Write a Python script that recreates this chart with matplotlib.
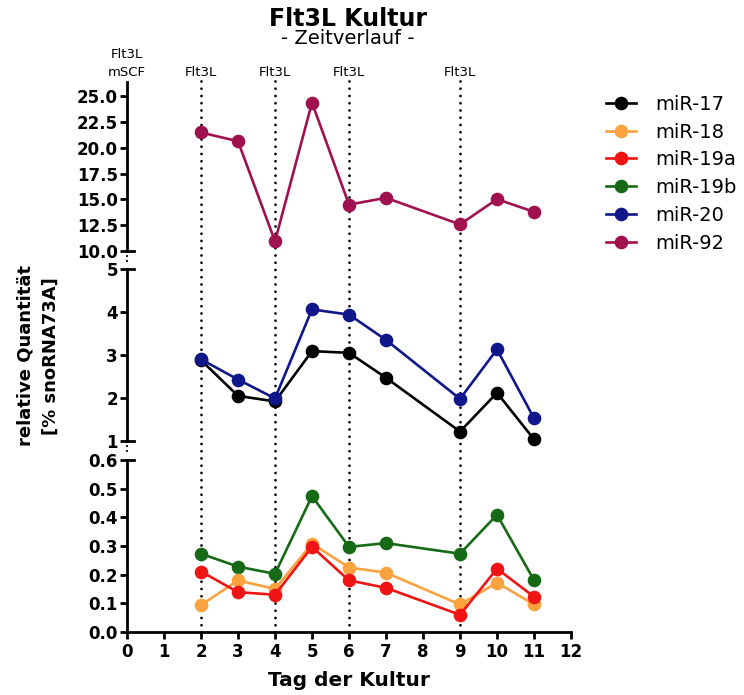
import matplotlib
matplotlib.use("Agg")
import matplotlib.pyplot as plt
import matplotlib.transforms as mtransforms
import numpy as np

plt.rcParams['font.family'] = ['DejaVu Sans']

days = [2, 3, 4, 5, 6, 7, 9, 10, 11]
mir17 = [2.88, 2.05, 1.92, 3.09, 3.05, 2.47, 1.22, 2.12, 1.04]
mir18 = [0.094, 0.180, 0.150, 0.308, 0.225, 0.207, 0.096, 0.172, 0.096]
mir19a = [0.211, 0.139, 0.130, 0.297, 0.180, 0.154, 0.060, 0.221, 0.123]
mir19b = [0.273, 0.228, 0.203, 0.474, 0.297, 0.310, 0.273, 0.409, 0.181]
mir20 = [2.90, 2.43, 1.99, 4.06, 3.94, 3.35, 1.98, 3.13, 1.53]
mir92 = [21.5, 20.65, 10.94, 24.4, 14.5, 15.16, 12.58, 15.03, 13.8]

series_names = ['miR-17', 'miR-18', 'miR-19a', 'miR-19b', 'miR-20', 'miR-92']
series_colors = ['#000000', '#F9A23E', '#F01414', '#166A16', '#10178A', '#A0114F']

treat_days = [2, 4, 6, 9]
treat_labels = ['Flt3L', 'Flt3L', 'Flt3L', 'Flt3L']
start_label = 'Flt3L\nmSCF'

top_ticks = [10.0, 12.5, 15.0, 17.5, 20.0, 22.5, 25.0]
mid_ticks = [1, 2, 3, 4, 5]
bot_ticks = [0.0, 0.1, 0.2, 0.3, 0.4, 0.5, 0.6]
x_ticks = list(range(0, 13))

W, H = 744, 695
fig = plt.figure(figsize=(W / 100, H / 100), dpi=100)

def fy(p):
    return 1 - p / H

left = 127 / W
width = (571 - 127) / W
ax_ov = fig.add_axes([left, fy(632), width, fy(80) - fy(632)], zorder=0)
ax_top = fig.add_axes([left, fy(251), width, fy(82) - fy(251)], zorder=1)
ax_mid = fig.add_axes([left, fy(441), width, fy(269) - fy(441)], zorder=1)
ax_bot = fig.add_axes([left, fy(632), width, fy(460) - fy(632)], zorder=1)
ax_ov.set_xlim(0, 12)
ax_ov.set_ylim(0, 1)
ax_ov.axis('off')

for d in treat_days:
    ax_ov.axvline(d, color='black', lw=2.0, linestyle=(0, (0.01, 2.6)),
                  dash_capstyle='round')

lw = 1.9
ms = 8.8
col = dict(zip(series_names, series_colors))
handles = []
ax_top.plot(days, mir92, color=col['miR-92'], lw=lw, marker='o', ms=ms, clip_on=False, zorder=5)
ax_mid.plot(days, mir17, color=col['miR-17'], lw=lw, marker='o', ms=ms, clip_on=False, zorder=5)
ax_mid.plot(days, mir20, color=col['miR-20'], lw=lw, marker='o', ms=ms, clip_on=False, zorder=6)
ax_bot.plot(days, mir19b, color=col['miR-19b'], lw=lw, marker='o', ms=ms, clip_on=False, zorder=5)
ax_bot.plot(days, mir18, color=col['miR-18'], lw=lw, marker='o', ms=ms, clip_on=False, zorder=5)
ax_bot.plot(days, mir19a, color=col['miR-19a'], lw=lw, marker='o', ms=ms, clip_on=False, zorder=6)

for name, c in zip(series_names, series_colors):
    h, = ax_ov.plot([], [], color=c, lw=lw, marker='o', ms=ms, label=name)
    handles.append(h)

spine_lw = 2.0
tick_font = dict(fontsize=12, fontweight='bold')
for ax in (ax_top, ax_mid, ax_bot):
    ax.set_xlim(0, 12)
    ax.patch.set_alpha(0)
    for s in ('top', 'right'):
        ax.spines[s].set_visible(False)
    ax.spines['left'].set_linewidth(spine_lw)
    ax.spines['bottom'].set_linewidth(spine_lw)
    ax.tick_params(axis='y', direction='out', length=5, width=spine_lw, pad=1.5)
    ax.tick_params(axis='x', direction='out', length=5, width=spine_lw, pad=3)

ax_top.set_ylim(10, 26.4)
ax_top.set_yticks(top_ticks)
ax_top.set_yticklabels([f'{t:.1f}' for t in top_ticks], **tick_font)
ax_mid.set_ylim(1, 5)
ax_mid.set_yticks(mid_ticks)
ax_mid.set_yticklabels([str(t) for t in mid_ticks], **tick_font)
ax_bot.set_ylim(0, 0.6)
ax_bot.set_yticks(bot_ticks)
ax_bot.set_yticklabels([f'{t:.1f}' for t in bot_ticks], **tick_font)

for ax in (ax_top, ax_mid):
    ax.spines['bottom'].set_visible(False)
    ax.set_xticks([])
ax_bot.set_xticks(x_ticks)
ax_bot.set_xticklabels([str(t) for t in x_ticks], fontsize=12, fontweight='bold')
ax_bot.set_xlabel('Tag der Kultur', fontsize=14.5, fontweight='bold', labelpad=7)

# break marks: short right-side stubs at panel ends and dots in gaps
for ax, yv in ((ax_top, 10.0), (ax_mid, 5), (ax_mid, 1), (ax_bot, 0.6)):
    tr = mtransforms.blended_transform_factory(ax.transAxes, ax.transData)
    ax.plot([0, 0.015], [yv, yv], color='black', lw=spine_lw, transform=tr, clip_on=False)
for gy in ((251, 269), (441, 460)):
    ys = [fy(gy[0] + 5), fy(gy[1] - 5)]
    fig.add_artist(plt.Line2D([left, left], ys, color='black', lw=1.6,
                              linestyle=(0, (0.01, 2.2)), dash_capstyle='round'))

# treatment labels
tr_one = mtransforms.offset_copy(ax_top.transData, fig=fig, x=0, y=6.5, units='points')
for d, lab in zip(treat_days, treat_labels):
    ax_top.text(d, 26.4, lab, transform=tr_one, ha='center', va='center', fontsize=9.5,
                clip_on=False)
tr_two = mtransforms.offset_copy(ax_top.transData, fig=fig, x=0, y=13, units='points')
ax_top.text(0, 26.4, start_label, transform=tr_two, ha='center', va='center', fontsize=9.5,
            linespacing=1.5, clip_on=False)

fig.text(348 / W, fy(19), 'Flt3L Kultur', ha='center', va='center', fontsize=17, fontweight='bold')
fig.text(348 / W, fy(39), '- Zeitverlauf -', ha='center', va='center', fontsize=14)

fig.text(38 / W, fy(356), 'relative Quantität\n[% snoRNA73A]', rotation=90, ha='center',
         va='center', fontsize=13, fontweight='bold', multialignment='center', linespacing=1.5)

fig.legend(handles=handles, labels=series_names, loc='upper left',
           bbox_to_anchor=(598 / W, fy(87)), frameon=False, fontsize=14,
           handlelength=1.55, handletextpad=1.0, labelspacing=0.45, borderaxespad=0)

fig.savefig('out.png', dpi=100)
